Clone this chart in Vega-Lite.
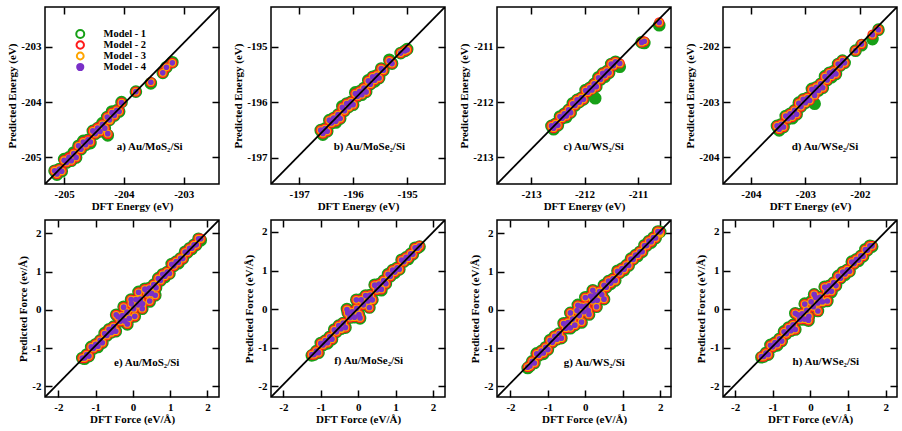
{
  "$schema": "https://vega.github.io/schema/vega-lite/v6.json",
  "padding": {"left": 6, "top": 5, "right": 5, "bottom": 5},
  "background": "white",
  "config": {
    "view": {"stroke": "black", "strokeWidth": 1.5},
    "axis": {"grid": false, "domain": false, "ticks": true, "tickSize": -7, "tickWidth": 1.5, "tickColor": "black", "labelFont": "Liberation Serif", "labelFontSize": 11, "labelFontWeight": "bold", "labelColor": "black", "labelFlush": false, "labelOverlap": false, "titleFont": "Liberation Serif", "titleFontSize": 11, "titleFontWeight": "bold", "titleColor": "black"},
    "axisX": {"labelPadding": 11, "titlePadding": 1},
    "axisY": {"labelPadding": 11, "titlePadding": 3}
  },
  "datasets": {
    "a": [
      {"x":-205.16,"m1":-205.24,"m2":-205.24,"m3":-205.24,"m4":-205.24},
      {"x":-205.12,"m1":-205.31,"m2":-205.30,"m3":-205.30,"m4":-205.30},
      {"x":-205.08,"m1":-205.21,"m2":-205.21,"m3":-205.21,"m4":-205.21},
      {"x":-205.04,"m1":-205.25,"m2":-205.24,"m3":-205.25,"m4":-205.25},
      {"x":-205.00,"m1":-205.03,"m2":-205.05,"m3":-205.05,"m4":-205.05},
      {"x":-204.96,"m1":-205.09,"m2":-205.09,"m3":-205.09,"m4":-205.09},
      {"x":-204.92,"m1":-205.00,"m2":-205.00,"m3":-205.01,"m4":-205.00},
      {"x":-204.88,"m1":-205.06,"m2":-205.06,"m3":-205.06,"m4":-205.06},
      {"x":-204.84,"m1":-204.91,"m2":-204.93,"m3":-204.93,"m4":-204.93},
      {"x":-204.80,"m1":-205.00,"m2":-205.00,"m3":-205.00,"m4":-205.00},
      {"x":-204.76,"m1":-204.79,"m2":-204.80,"m3":-204.79,"m4":-204.79},
      {"x":-204.72,"m1":-204.85,"m2":-204.85,"m3":-204.85,"m4":-204.85},
      {"x":-204.68,"m1":-204.70,"m2":-204.72,"m3":-204.72,"m4":-204.72},
      {"x":-204.64,"m1":-204.77,"m2":-204.77,"m3":-204.77,"m4":-204.77},
      {"x":-204.60,"m1":-204.68,"m2":-204.68,"m3":-204.69,"m4":-204.68},
      {"x":-204.56,"m1":-204.74,"m2":-204.72,"m3":-204.72,"m4":-204.72},
      {"x":-204.52,"m1":-204.52,"m2":-204.52,"m3":-204.52,"m4":-204.52},
      {"x":-204.48,"m1":-204.57,"m2":-204.57,"m3":-204.57,"m4":-204.57},
      {"x":-204.44,"m1":-204.47,"m2":-204.46,"m3":-204.47,"m4":-204.47},
      {"x":-204.40,"m1":-204.53,"m2":-204.53,"m3":-204.53,"m4":-204.53},
      {"x":-204.36,"m1":-204.38,"m2":-204.40,"m3":-204.40,"m4":-204.40},
      {"x":-204.32,"m1":-204.47,"m2":-204.47,"m3":-204.47,"m4":-204.47},
      {"x":-204.28,"m1":-204.27,"m2":-204.27,"m3":-204.27,"m4":-204.27},
      {"x":-204.24,"m1":-204.32,"m2":-204.32,"m3":-204.33,"m4":-204.32},
      {"x":-204.20,"m1":-204.17,"m2":-204.19,"m3":-204.19,"m4":-204.19},
      {"x":-204.16,"m1":-204.24,"m2":-204.24,"m3":-204.24,"m4":-204.24},
      {"x":-204.12,"m1":-204.15,"m2":-204.15,"m3":-204.15,"m4":-204.15},
      {"x":-204.08,"m1":-204.17,"m2":-204.16,"m3":-204.17,"m4":-204.17},
      {"x":-204.04,"m1":-204.00,"m2":-204.01,"m3":-204.01,"m4":-204.01},
      {"x":-204.27,"m1":-204.60,"m2":-204.58,"m3":-204.57,"m4":-204.57},
      {"x":-203.80,"m1":-203.81,"m2":-203.81,"m3":-203.81,"m4":-203.81},
      {"x":-203.55,"m1":-203.66,"m2":-203.64,"m3":-203.64,"m4":-203.64},
      {"x":-203.35,"m1":-203.47,"m2":-203.47,"m3":-203.47,"m4":-203.47},
      {"x":-203.29,"m1":-203.37,"m2":-203.37,"m3":-203.37,"m4":-203.37},
      {"x":-203.19,"m1":-203.28,"m2":-203.29,"m3":-203.29,"m4":-203.29}
    ],
    "b": [
      {"x":-196.60,"m1":-196.50,"m2":-196.50,"m3":-196.50,"m4":-196.50},
      {"x":-196.56,"m1":-196.58,"m2":-196.56,"m3":-196.56,"m4":-196.56},
      {"x":-196.52,"m1":-196.47,"m2":-196.47,"m3":-196.47,"m4":-196.47},
      {"x":-196.48,"m1":-196.52,"m2":-196.52,"m3":-196.52,"m4":-196.52},
      {"x":-196.44,"m1":-196.32,"m2":-196.33,"m3":-196.32,"m4":-196.32},
      {"x":-196.40,"m1":-196.37,"m2":-196.37,"m3":-196.37,"m4":-196.37},
      {"x":-196.36,"m1":-196.28,"m2":-196.28,"m3":-196.28,"m4":-196.28},
      {"x":-196.32,"m1":-196.36,"m2":-196.34,"m3":-196.34,"m4":-196.34},
      {"x":-196.28,"m1":-196.22,"m2":-196.22,"m3":-196.22,"m4":-196.22},
      {"x":-196.24,"m1":-196.29,"m2":-196.29,"m3":-196.29,"m4":-196.29},
      {"x":-196.20,"m1":-196.07,"m2":-196.09,"m3":-196.09,"m4":-196.09},
      {"x":-196.16,"m1":-196.15,"m2":-196.15,"m3":-196.15,"m4":-196.15},
      {"x":-196.12,"m1":-196.02,"m2":-196.02,"m3":-196.02,"m4":-196.02},
      {"x":-196.08,"m1":-196.08,"m2":-196.08,"m3":-196.09,"m4":-196.08},
      {"x":-196.04,"m1":-195.99,"m2":-195.99,"m3":-195.99,"m4":-195.99},
      {"x":-196.00,"m1":-196.04,"m2":-196.04,"m3":-196.04,"m4":-196.04},
      {"x":-195.96,"m1":-195.82,"m2":-195.84,"m3":-195.84,"m4":-195.84},
      {"x":-195.92,"m1":-195.89,"m2":-195.89,"m3":-195.89,"m4":-195.89},
      {"x":-195.88,"m1":-195.80,"m2":-195.80,"m3":-195.80,"m4":-195.80},
      {"x":-195.84,"m1":-195.86,"m2":-195.85,"m3":-195.86,"m4":-195.86},
      {"x":-195.80,"m1":-195.74,"m2":-195.74,"m3":-195.74,"m4":-195.74},
      {"x":-195.76,"m1":-195.81,"m2":-195.81,"m3":-195.81,"m4":-195.81},
      {"x":-195.72,"m1":-195.60,"m2":-195.61,"m3":-195.61,"m4":-195.61},
      {"x":-195.68,"m1":-195.67,"m2":-195.67,"m3":-195.67,"m4":-195.67},
      {"x":-195.64,"m1":-195.54,"m2":-195.54,"m3":-195.54,"m4":-195.54},
      {"x":-195.60,"m1":-195.62,"m2":-195.60,"m3":-195.60,"m4":-195.60},
      {"x":-195.56,"m1":-195.51,"m2":-195.51,"m3":-195.51,"m4":-195.51},
      {"x":-195.52,"m1":-195.56,"m2":-195.56,"m3":-195.56,"m4":-195.56},
      {"x":-195.48,"m1":-195.39,"m2":-195.39,"m3":-195.39,"m4":-195.39},
      {"x":-195.44,"m1":-195.42,"m2":-195.42,"m3":-195.42,"m4":-195.42},
      {"x":-195.33,"m1":-195.23,"m2":-195.25,"m3":-195.25,"m4":-195.25},
      {"x":-195.28,"m1":-195.30,"m2":-195.30,"m3":-195.30,"m4":-195.30},
      {"x":-195.12,"m1":-195.11,"m2":-195.11,"m3":-195.11,"m4":-195.11},
      {"x":-195.04,"m1":-195.07,"m2":-195.07,"m3":-195.07,"m4":-195.07},
      {"x":-195.00,"m1":-195.04,"m2":-195.05,"m3":-195.05,"m4":-195.05}
    ],
    "c": [
      {"x":-212.62,"m1":-212.43,"m2":-212.43,"m3":-212.43,"m4":-212.43},
      {"x":-212.58,"m1":-212.49,"m2":-212.47,"m3":-212.47,"m4":-212.47},
      {"x":-212.54,"m1":-212.39,"m2":-212.39,"m3":-212.39,"m4":-212.39},
      {"x":-212.50,"m1":-212.42,"m2":-212.42,"m3":-212.42,"m4":-212.42},
      {"x":-212.46,"m1":-212.26,"m2":-212.27,"m3":-212.26,"m4":-212.26},
      {"x":-212.42,"m1":-212.29,"m2":-212.29,"m3":-212.29,"m4":-212.29},
      {"x":-212.38,"m1":-212.21,"m2":-212.21,"m3":-212.21,"m4":-212.21},
      {"x":-212.34,"m1":-212.27,"m2":-212.25,"m3":-212.25,"m4":-212.25},
      {"x":-212.30,"m1":-212.14,"m2":-212.14,"m3":-212.14,"m4":-212.14},
      {"x":-212.26,"m1":-212.19,"m2":-212.19,"m3":-212.19,"m4":-212.19},
      {"x":-212.22,"m1":-212.02,"m2":-212.03,"m3":-212.03,"m4":-212.03},
      {"x":-212.18,"m1":-212.06,"m2":-212.06,"m3":-212.06,"m4":-212.06},
      {"x":-212.14,"m1":-211.96,"m2":-211.96,"m3":-211.96,"m4":-211.96},
      {"x":-212.10,"m1":-212.00,"m2":-212.00,"m3":-212.01,"m4":-212.00},
      {"x":-212.06,"m1":-211.92,"m2":-211.92,"m3":-211.92,"m4":-211.92},
      {"x":-212.02,"m1":-211.95,"m2":-211.95,"m3":-211.95,"m4":-211.95},
      {"x":-211.98,"m1":-211.78,"m2":-211.79,"m3":-211.79,"m4":-211.79},
      {"x":-211.94,"m1":-211.82,"m2":-211.82,"m3":-211.82,"m4":-211.82},
      {"x":-211.90,"m1":-211.74,"m2":-211.74,"m3":-211.74,"m4":-211.74},
      {"x":-211.86,"m1":-211.78,"m2":-211.77,"m3":-211.78,"m4":-211.78},
      {"x":-211.82,"m1":-211.67,"m2":-211.67,"m3":-211.67,"m4":-211.67},
      {"x":-211.78,"m1":-211.72,"m2":-211.72,"m3":-211.72,"m4":-211.72},
      {"x":-211.74,"m1":-211.55,"m2":-211.56,"m3":-211.56,"m4":-211.56},
      {"x":-211.70,"m1":-211.59,"m2":-211.59,"m3":-211.59,"m4":-211.59},
      {"x":-211.66,"m1":-211.48,"m2":-211.48,"m3":-211.48,"m4":-211.48},
      {"x":-211.62,"m1":-211.54,"m2":-211.52,"m3":-211.52,"m4":-211.52},
      {"x":-211.58,"m1":-211.44,"m2":-211.44,"m3":-211.44,"m4":-211.44},
      {"x":-211.54,"m1":-211.47,"m2":-211.47,"m3":-211.47,"m4":-211.47},
      {"x":-211.50,"m1":-211.31,"m2":-211.31,"m3":-211.31,"m4":-211.31},
      {"x":-211.46,"m1":-211.34,"m2":-211.34,"m3":-211.34,"m4":-211.34},
      {"x":-211.42,"m1":-211.27,"m2":-211.27,"m3":-211.27,"m4":-211.27},
      {"x":-211.80,"m1":-211.93,"m2":-211.70,"m3":-211.70,"m4":-211.70},
      {"x":-211.34,"m1":-211.36,"m2":-211.30,"m3":-211.30,"m4":-211.30},
      {"x":-210.93,"m1":-210.92,"m2":-210.92,"m3":-210.92,"m4":-210.92},
      {"x":-210.88,"m1":-210.93,"m2":-210.90,"m3":-210.90,"m4":-210.90},
      {"x":-210.60,"m1":-210.61,"m2":-210.56,"m3":-210.56,"m4":-210.56}
    ],
    "d": [
      {"x":-203.52,"m1":-203.43,"m2":-203.43,"m3":-203.43,"m4":-203.43},
      {"x":-203.48,"m1":-203.51,"m2":-203.49,"m3":-203.49,"m4":-203.49},
      {"x":-203.44,"m1":-203.40,"m2":-203.40,"m3":-203.40,"m4":-203.40},
      {"x":-203.40,"m1":-203.45,"m2":-203.45,"m3":-203.45,"m4":-203.45},
      {"x":-203.36,"m1":-203.25,"m2":-203.26,"m3":-203.25,"m4":-203.25},
      {"x":-203.32,"m1":-203.30,"m2":-203.30,"m3":-203.30,"m4":-203.30},
      {"x":-203.28,"m1":-203.21,"m2":-203.21,"m3":-203.21,"m4":-203.21},
      {"x":-203.24,"m1":-203.29,"m2":-203.27,"m3":-203.27,"m4":-203.27},
      {"x":-203.20,"m1":-203.15,"m2":-203.15,"m3":-203.15,"m4":-203.15},
      {"x":-203.16,"m1":-203.22,"m2":-203.22,"m3":-203.22,"m4":-203.22},
      {"x":-203.12,"m1":-203.01,"m2":-203.02,"m3":-203.02,"m4":-203.02},
      {"x":-203.08,"m1":-203.08,"m2":-203.08,"m3":-203.08,"m4":-203.08},
      {"x":-203.04,"m1":-202.95,"m2":-202.95,"m3":-202.95,"m4":-202.95},
      {"x":-203.00,"m1":-203.01,"m2":-203.01,"m3":-203.02,"m4":-203.01},
      {"x":-202.96,"m1":-202.92,"m2":-202.92,"m3":-202.92,"m4":-202.92},
      {"x":-202.92,"m1":-202.97,"m2":-202.97,"m3":-202.97,"m4":-202.97},
      {"x":-202.88,"m1":-202.76,"m2":-202.77,"m3":-202.77,"m4":-202.77},
      {"x":-202.84,"m1":-202.82,"m2":-202.82,"m3":-202.82,"m4":-202.82},
      {"x":-202.80,"m1":-202.73,"m2":-202.73,"m3":-202.73,"m4":-202.73},
      {"x":-202.76,"m1":-202.79,"m2":-202.78,"m3":-202.79,"m4":-202.79},
      {"x":-202.72,"m1":-202.67,"m2":-202.67,"m3":-202.67,"m4":-202.67},
      {"x":-202.68,"m1":-202.74,"m2":-202.74,"m3":-202.74,"m4":-202.74},
      {"x":-202.64,"m1":-202.53,"m2":-202.54,"m3":-202.54,"m4":-202.54},
      {"x":-202.60,"m1":-202.60,"m2":-202.60,"m3":-202.60,"m4":-202.60},
      {"x":-202.56,"m1":-202.47,"m2":-202.47,"m3":-202.47,"m4":-202.47},
      {"x":-202.52,"m1":-202.55,"m2":-202.53,"m3":-202.53,"m4":-202.53},
      {"x":-202.48,"m1":-202.44,"m2":-202.44,"m3":-202.44,"m4":-202.44},
      {"x":-202.44,"m1":-202.49,"m2":-202.49,"m3":-202.49,"m4":-202.49},
      {"x":-202.40,"m1":-202.31,"m2":-202.31,"m3":-202.31,"m4":-202.31},
      {"x":-202.36,"m1":-202.34,"m2":-202.34,"m3":-202.34,"m4":-202.34},
      {"x":-202.32,"m1":-202.25,"m2":-202.25,"m3":-202.25,"m4":-202.25},
      {"x":-202.28,"m1":-202.29,"m2":-202.29,"m3":-202.29,"m4":-202.29},
      {"x":-202.83,"m1":-203.03,"m2":-202.88,"m3":-202.88,"m4":-202.88},
      {"x":-202.08,"m1":-202.07,"m2":-202.07,"m3":-202.07,"m4":-202.07},
      {"x":-201.97,"m1":-201.97,"m2":-201.95,"m3":-201.95,"m4":-201.95},
      {"x":-201.77,"m1":-201.86,"m2":-201.78,"m3":-201.78,"m4":-201.78},
      {"x":-201.66,"m1":-201.69,"m2":-201.69,"m3":-201.69,"m4":-201.69}
    ],
    "e": [
      {"x":-1.36,"m1":-1.26,"m2":-1.26,"m3":-1.26,"m4":-1.26},
      {"x":-1.30,"m1":-1.28,"m2":-1.26,"m3":-1.26,"m4":-1.26},
      {"x":-1.24,"m1":-1.17,"m2":-1.17,"m3":-1.17,"m4":-1.17},
      {"x":-1.18,"m1":-1.21,"m2":-1.21,"m3":-1.21,"m4":-1.21},
      {"x":-1.12,"m1":-0.97,"m2":-0.98,"m3":-0.97,"m4":-0.97},
      {"x":-1.06,"m1":-1.01,"m2":-1.01,"m3":-1.01,"m4":-1.01},
      {"x":-1.00,"m1":-0.90,"m2":-0.90,"m3":-0.90,"m4":-0.90},
      {"x":-0.94,"m1":-0.97,"m2":-0.95,"m3":-0.95,"m4":-0.95},
      {"x":-0.88,"m1":-0.80,"m2":-0.80,"m3":-0.80,"m4":-0.80},
      {"x":-0.82,"m1":-0.86,"m2":-0.86,"m3":-0.86,"m4":-0.86},
      {"x":-0.76,"m1":-0.61,"m2":-0.62,"m3":-0.62,"m4":-0.62},
      {"x":-0.70,"m1":-0.67,"m2":-0.67,"m3":-0.67,"m4":-0.67},
      {"x":-0.64,"m1":-0.51,"m2":-0.51,"m3":-0.51,"m4":-0.51},
      {"x":-0.58,"m1":-0.59,"m2":-0.59,"m3":-0.60,"m4":-0.59},
      {"x":-0.52,"m1":-0.44,"m2":-0.44,"m3":-0.44,"m4":-0.44},
      {"x":-0.46,"m1":-0.56,"m2":-0.56,"m3":-0.56,"m4":-0.56},
      {"x":-0.40,"m1":-0.17,"m2":-0.18,"m3":-0.18,"m4":-0.18},
      {"x":-0.34,"m1":-0.30,"m2":-0.30,"m3":-0.30,"m4":-0.30},
      {"x":-0.28,"m1":-0.15,"m2":-0.15,"m3":-0.15,"m4":-0.15},
      {"x":-0.22,"m1":-0.29,"m2":-0.28,"m3":-0.29,"m4":-0.29},
      {"x":-0.16,"m1":-0.06,"m2":-0.06,"m3":-0.06,"m4":-0.06},
      {"x":-0.10,"m1":-0.22,"m2":-0.22,"m3":-0.22,"m4":-0.22},
      {"x":-0.04,"m1":0.17,"m2":0.16,"m3":0.16,"m4":0.16},
      {"x":0.02,"m1":0.03,"m2":0.03,"m3":0.03,"m4":0.03},
      {"x":0.08,"m1":0.27,"m2":0.27,"m3":0.27,"m4":0.27},
      {"x":0.14,"m1":0.11,"m2":0.13,"m3":0.13,"m4":0.13},
      {"x":0.20,"m1":0.28,"m2":0.28,"m3":0.28,"m4":0.28},
      {"x":0.26,"m1":0.16,"m2":0.16,"m3":0.15,"m4":0.16},
      {"x":0.32,"m1":0.55,"m2":0.54,"m3":0.54,"m4":0.54},
      {"x":0.38,"m1":0.42,"m2":0.42,"m3":0.42,"m4":0.42},
      {"x":0.44,"m1":0.57,"m2":0.57,"m3":0.57,"m4":0.57},
      {"x":0.50,"m1":0.41,"m2":0.43,"m3":0.43,"m4":0.43},
      {"x":0.56,"m1":0.66,"m2":0.66,"m3":0.66,"m4":0.66},
      {"x":0.62,"m1":0.58,"m2":0.58,"m3":0.58,"m4":0.58},
      {"x":0.68,"m1":0.83,"m2":0.82,"m3":0.82,"m4":0.82},
      {"x":0.74,"m1":0.77,"m2":0.77,"m3":0.77,"m4":0.77},
      {"x":0.80,"m1":0.93,"m2":0.93,"m3":0.93,"m4":0.93},
      {"x":0.86,"m1":0.86,"m2":0.88,"m3":0.88,"m4":0.88},
      {"x":0.92,"m1":0.99,"m2":0.99,"m3":0.99,"m4":0.99},
      {"x":0.98,"m1":0.95,"m2":0.95,"m3":0.94,"m4":0.95},
      {"x":1.04,"m1":1.20,"m2":1.19,"m3":1.19,"m4":1.19},
      {"x":1.10,"m1":1.15,"m2":1.15,"m3":1.15,"m4":1.15},
      {"x":1.16,"m1":1.26,"m2":1.26,"m3":1.26,"m4":1.26},
      {"x":1.22,"m1":1.22,"m2":1.24,"m3":1.24,"m4":1.24},
      {"x":1.28,"m1":1.35,"m2":1.35,"m3":1.35,"m4":1.35},
      {"x":1.34,"m1":1.34,"m2":1.34,"m3":1.34,"m4":1.34},
      {"x":1.40,"m1":1.52,"m2":1.51,"m3":1.51,"m4":1.51},
      {"x":1.46,"m1":1.50,"m2":1.50,"m3":1.50,"m4":1.50},
      {"x":1.52,"m1":1.61,"m2":1.61,"m3":1.61,"m4":1.61},
      {"x":1.58,"m1":1.59,"m2":1.61,"m3":1.61,"m4":1.61},
      {"x":1.64,"m1":1.70,"m2":1.70,"m3":1.70,"m4":1.70},
      {"x":1.70,"m1":1.70,"m2":1.70,"m3":1.70,"m4":1.70},
      {"x":1.76,"m1":1.86,"m2":1.86,"m3":1.86,"m4":1.86},
      {"x":1.82,"m1":1.82,"m2":1.86,"m3":1.85,"m4":1.86},
      {"x":-0.45,"m1":-0.13,"m2":-0.13,"m3":-0.13,"m4":-0.13},
      {"x":-0.25,"m1":0.08,"m2":0.07,"m3":0.07,"m4":0.07},
      {"x":-0.05,"m1":0.27,"m2":0.27,"m3":0.27,"m4":0.27},
      {"x":0.15,"m1":0.47,"m2":0.46,"m3":0.46,"m4":0.46},
      {"x":-0.15,"m1":-0.38,"m2":-0.37,"m3":-0.37,"m4":-0.37},
      {"x":0.05,"m1":-0.17,"m2":-0.17,"m3":-0.17,"m4":-0.17},
      {"x":0.25,"m1":0.03,"m2":0.03,"m3":0.03,"m4":0.03},
      {"x":0.45,"m1":0.22,"m2":0.23,"m3":0.23,"m4":0.23},
      {"x":0.60,"m1":0.38,"m2":0.38,"m3":0.38,"m4":0.38}
    ],
    "f": [
      {"x":-1.24,"m1":-1.20,"m2":-1.18,"m3":-1.18,"m4":-1.18},
      {"x":-1.18,"m1":-1.18,"m2":-1.18,"m3":-1.18,"m4":-1.18},
      {"x":-1.12,"m1":-1.09,"m2":-1.09,"m3":-1.09,"m4":-1.09},
      {"x":-1.06,"m1":-1.13,"m2":-1.13,"m3":-1.13,"m4":-1.13},
      {"x":-1.00,"m1":-0.88,"m2":-0.89,"m3":-0.89,"m4":-0.89},
      {"x":-0.94,"m1":-0.93,"m2":-0.93,"m3":-0.93,"m4":-0.93},
      {"x":-0.88,"m1":-0.82,"m2":-0.82,"m3":-0.82,"m4":-0.82},
      {"x":-0.82,"m1":-0.89,"m2":-0.87,"m3":-0.87,"m4":-0.87},
      {"x":-0.76,"m1":-0.72,"m2":-0.72,"m3":-0.72,"m4":-0.72},
      {"x":-0.70,"m1":-0.78,"m2":-0.78,"m3":-0.78,"m4":-0.78},
      {"x":-0.64,"m1":-0.53,"m2":-0.54,"m3":-0.54,"m4":-0.54},
      {"x":-0.58,"m1":-0.59,"m2":-0.59,"m3":-0.59,"m4":-0.59},
      {"x":-0.52,"m1":-0.43,"m2":-0.43,"m3":-0.43,"m4":-0.43},
      {"x":-0.46,"m1":-0.51,"m2":-0.51,"m3":-0.52,"m4":-0.51},
      {"x":-0.40,"m1":-0.36,"m2":-0.36,"m3":-0.36,"m4":-0.36},
      {"x":-0.34,"m1":-0.48,"m2":-0.48,"m3":-0.48,"m4":-0.48},
      {"x":-0.28,"m1":-0.09,"m2":-0.10,"m3":-0.10,"m4":-0.10},
      {"x":-0.22,"m1":-0.22,"m2":-0.22,"m3":-0.22,"m4":-0.22},
      {"x":-0.16,"m1":-0.07,"m2":-0.07,"m3":-0.07,"m4":-0.07},
      {"x":-0.10,"m1":-0.21,"m2":-0.20,"m3":-0.21,"m4":-0.21},
      {"x":-0.04,"m1":0.02,"m2":0.02,"m3":0.02,"m4":0.02},
      {"x":0.02,"m1":-0.14,"m2":-0.14,"m3":-0.14,"m4":-0.14},
      {"x":0.08,"m1":0.25,"m2":0.24,"m3":0.24,"m4":0.24},
      {"x":0.14,"m1":0.11,"m2":0.11,"m3":0.11,"m4":0.11},
      {"x":0.20,"m1":0.35,"m2":0.35,"m3":0.35,"m4":0.35},
      {"x":0.26,"m1":0.19,"m2":0.21,"m3":0.21,"m4":0.21},
      {"x":0.32,"m1":0.36,"m2":0.36,"m3":0.36,"m4":0.36},
      {"x":0.38,"m1":0.24,"m2":0.24,"m3":0.23,"m4":0.24},
      {"x":0.44,"m1":0.63,"m2":0.62,"m3":0.62,"m4":0.62},
      {"x":0.50,"m1":0.50,"m2":0.50,"m3":0.50,"m4":0.50},
      {"x":0.56,"m1":0.65,"m2":0.65,"m3":0.65,"m4":0.65},
      {"x":0.62,"m1":0.49,"m2":0.51,"m3":0.51,"m4":0.51},
      {"x":0.68,"m1":0.74,"m2":0.74,"m3":0.74,"m4":0.74},
      {"x":0.74,"m1":0.66,"m2":0.66,"m3":0.66,"m4":0.66},
      {"x":0.80,"m1":0.91,"m2":0.90,"m3":0.90,"m4":0.90},
      {"x":0.86,"m1":0.85,"m2":0.85,"m3":0.85,"m4":0.85},
      {"x":0.92,"m1":1.01,"m2":1.01,"m3":1.01,"m4":1.01},
      {"x":0.98,"m1":0.94,"m2":0.96,"m3":0.96,"m4":0.96},
      {"x":1.04,"m1":1.07,"m2":1.07,"m3":1.07,"m4":1.07},
      {"x":1.10,"m1":1.03,"m2":1.03,"m3":1.02,"m4":1.03},
      {"x":1.16,"m1":1.28,"m2":1.27,"m3":1.27,"m4":1.27},
      {"x":1.22,"m1":1.23,"m2":1.23,"m3":1.23,"m4":1.23},
      {"x":1.28,"m1":1.34,"m2":1.34,"m3":1.34,"m4":1.34},
      {"x":1.34,"m1":1.30,"m2":1.32,"m3":1.32,"m4":1.32},
      {"x":1.40,"m1":1.43,"m2":1.43,"m3":1.43,"m4":1.43},
      {"x":1.46,"m1":1.42,"m2":1.42,"m3":1.42,"m4":1.42},
      {"x":1.52,"m1":1.59,"m2":1.59,"m3":1.59,"m4":1.59},
      {"x":1.58,"m1":1.58,"m2":1.58,"m3":1.58,"m4":1.58},
      {"x":1.64,"m1":1.62,"m2":1.64,"m3":1.64,"m4":1.64},
      {"x":-0.30,"m1":0.00,"m2":-0.01,"m3":-0.01,"m4":-0.01},
      {"x":-0.05,"m1":0.24,"m2":0.24,"m3":0.24,"m4":0.24},
      {"x":0.05,"m1":-0.24,"m2":-0.23,"m3":-0.23,"m4":-0.23},
      {"x":0.30,"m1":0.04,"m2":0.04,"m3":0.04,"m4":0.04}
    ],
    "g": [
      {"x":-1.54,"m1":-1.52,"m2":-1.50,"m3":-1.50,"m4":-1.50},
      {"x":-1.48,"m1":-1.47,"m2":-1.47,"m3":-1.47,"m4":-1.47},
      {"x":-1.42,"m1":-1.35,"m2":-1.35,"m3":-1.35,"m4":-1.35},
      {"x":-1.36,"m1":-1.39,"m2":-1.39,"m3":-1.39,"m4":-1.39},
      {"x":-1.30,"m1":-1.14,"m2":-1.15,"m3":-1.15,"m4":-1.15},
      {"x":-1.24,"m1":-1.19,"m2":-1.19,"m3":-1.19,"m4":-1.19},
      {"x":-1.18,"m1":-1.08,"m2":-1.08,"m3":-1.08,"m4":-1.08},
      {"x":-1.12,"m1":-1.15,"m2":-1.13,"m3":-1.13,"m4":-1.13},
      {"x":-1.06,"m1":-0.98,"m2":-0.98,"m3":-0.98,"m4":-0.98},
      {"x":-1.00,"m1":-1.04,"m2":-1.04,"m3":-1.04,"m4":-1.04},
      {"x":-0.94,"m1":-0.79,"m2":-0.80,"m3":-0.80,"m4":-0.80},
      {"x":-0.88,"m1":-0.85,"m2":-0.85,"m3":-0.85,"m4":-0.85},
      {"x":-0.82,"m1":-0.69,"m2":-0.69,"m3":-0.69,"m4":-0.69},
      {"x":-0.76,"m1":-0.77,"m2":-0.77,"m3":-0.78,"m4":-0.77},
      {"x":-0.70,"m1":-0.62,"m2":-0.62,"m3":-0.62,"m4":-0.62},
      {"x":-0.64,"m1":-0.74,"m2":-0.74,"m3":-0.74,"m4":-0.74},
      {"x":-0.58,"m1":-0.35,"m2":-0.36,"m3":-0.36,"m4":-0.36},
      {"x":-0.52,"m1":-0.48,"m2":-0.48,"m3":-0.48,"m4":-0.48},
      {"x":-0.46,"m1":-0.33,"m2":-0.33,"m3":-0.33,"m4":-0.33},
      {"x":-0.40,"m1":-0.48,"m2":-0.47,"m3":-0.47,"m4":-0.47},
      {"x":-0.34,"m1":-0.24,"m2":-0.24,"m3":-0.24,"m4":-0.24},
      {"x":-0.28,"m1":-0.40,"m2":-0.40,"m3":-0.40,"m4":-0.40},
      {"x":-0.22,"m1":-0.01,"m2":-0.02,"m3":-0.02,"m4":-0.02},
      {"x":-0.16,"m1":-0.15,"m2":-0.15,"m3":-0.15,"m4":-0.15},
      {"x":-0.10,"m1":0.09,"m2":0.09,"m3":0.09,"m4":0.09},
      {"x":-0.04,"m1":-0.06,"m2":-0.05,"m3":-0.05,"m4":-0.05},
      {"x":0.02,"m1":0.10,"m2":0.10,"m3":0.10,"m4":0.10},
      {"x":0.08,"m1":-0.02,"m2":-0.02,"m3":-0.03,"m4":-0.02},
      {"x":0.14,"m1":0.37,"m2":0.36,"m3":0.36,"m4":0.36},
      {"x":0.20,"m1":0.24,"m2":0.24,"m3":0.24,"m4":0.24},
      {"x":0.26,"m1":0.39,"m2":0.39,"m3":0.39,"m4":0.39},
      {"x":0.32,"m1":0.24,"m2":0.25,"m3":0.25,"m4":0.25},
      {"x":0.38,"m1":0.48,"m2":0.48,"m3":0.48,"m4":0.48},
      {"x":0.44,"m1":0.40,"m2":0.40,"m3":0.40,"m4":0.40},
      {"x":0.50,"m1":0.65,"m2":0.64,"m3":0.64,"m4":0.64},
      {"x":0.56,"m1":0.59,"m2":0.59,"m3":0.59,"m4":0.59},
      {"x":0.62,"m1":0.75,"m2":0.75,"m3":0.75,"m4":0.75},
      {"x":0.68,"m1":0.68,"m2":0.70,"m3":0.70,"m4":0.70},
      {"x":0.74,"m1":0.81,"m2":0.81,"m3":0.81,"m4":0.81},
      {"x":0.80,"m1":0.77,"m2":0.77,"m3":0.76,"m4":0.77},
      {"x":0.86,"m1":1.02,"m2":1.01,"m3":1.01,"m4":1.01},
      {"x":0.92,"m1":0.97,"m2":0.97,"m3":0.97,"m4":0.97},
      {"x":0.98,"m1":1.08,"m2":1.08,"m3":1.08,"m4":1.08},
      {"x":1.04,"m1":1.04,"m2":1.06,"m3":1.06,"m4":1.06},
      {"x":1.10,"m1":1.17,"m2":1.17,"m3":1.17,"m4":1.17},
      {"x":1.16,"m1":1.16,"m2":1.16,"m3":1.16,"m4":1.16},
      {"x":1.22,"m1":1.34,"m2":1.33,"m3":1.33,"m4":1.33},
      {"x":1.28,"m1":1.32,"m2":1.32,"m3":1.32,"m4":1.32},
      {"x":1.34,"m1":1.43,"m2":1.43,"m3":1.43,"m4":1.43},
      {"x":1.40,"m1":1.41,"m2":1.43,"m3":1.43,"m4":1.43},
      {"x":1.46,"m1":1.52,"m2":1.52,"m3":1.52,"m4":1.52},
      {"x":1.52,"m1":1.52,"m2":1.52,"m3":1.52,"m4":1.52},
      {"x":1.58,"m1":1.69,"m2":1.68,"m3":1.68,"m4":1.68},
      {"x":1.64,"m1":1.68,"m2":1.68,"m3":1.68,"m4":1.68},
      {"x":1.70,"m1":1.80,"m2":1.80,"m3":1.80,"m4":1.80},
      {"x":1.76,"m1":1.76,"m2":1.78,"m3":1.78,"m4":1.78},
      {"x":1.82,"m1":1.89,"m2":1.89,"m3":1.89,"m4":1.89},
      {"x":1.88,"m1":1.88,"m2":1.88,"m3":1.88,"m4":1.88},
      {"x":1.94,"m1":2.05,"m2":2.05,"m3":2.05,"m4":2.05},
      {"x":2.00,"m1":2.04,"m2":2.04,"m3":1.99,"m4":2.04},
      {"x":-0.40,"m1":-0.08,"m2":-0.08,"m3":-0.08,"m4":-0.08},
      {"x":-0.20,"m1":0.13,"m2":0.12,"m3":0.12,"m4":0.12},
      {"x":0.00,"m1":0.33,"m2":0.32,"m3":0.32,"m4":0.32},
      {"x":0.20,"m1":0.51,"m2":0.51,"m3":0.51,"m4":0.51},
      {"x":-0.10,"m1":-0.33,"m2":-0.32,"m3":-0.32,"m4":-0.32},
      {"x":0.10,"m1":-0.12,"m2":-0.12,"m3":-0.12,"m4":-0.12},
      {"x":0.30,"m1":0.08,"m2":0.08,"m3":0.08,"m4":0.08},
      {"x":0.50,"m1":0.28,"m2":0.28,"m3":0.28,"m4":0.28}
    ],
    "h": [
      {"x":-1.30,"m1":-1.25,"m2":-1.23,"m3":-1.23,"m4":-1.23},
      {"x":-1.24,"m1":-1.23,"m2":-1.23,"m3":-1.23,"m4":-1.23},
      {"x":-1.18,"m1":-1.14,"m2":-1.14,"m3":-1.14,"m4":-1.14},
      {"x":-1.12,"m1":-1.18,"m2":-1.18,"m3":-1.18,"m4":-1.18},
      {"x":-1.06,"m1":-0.93,"m2":-0.94,"m3":-0.94,"m4":-0.94},
      {"x":-1.00,"m1":-0.98,"m2":-0.98,"m3":-0.98,"m4":-0.98},
      {"x":-0.94,"m1":-0.87,"m2":-0.87,"m3":-0.87,"m4":-0.87},
      {"x":-0.88,"m1":-0.94,"m2":-0.92,"m3":-0.92,"m4":-0.92},
      {"x":-0.82,"m1":-0.77,"m2":-0.77,"m3":-0.77,"m4":-0.77},
      {"x":-0.76,"m1":-0.83,"m2":-0.83,"m3":-0.83,"m4":-0.83},
      {"x":-0.70,"m1":-0.58,"m2":-0.59,"m3":-0.59,"m4":-0.59},
      {"x":-0.64,"m1":-0.64,"m2":-0.64,"m3":-0.64,"m4":-0.64},
      {"x":-0.58,"m1":-0.48,"m2":-0.48,"m3":-0.48,"m4":-0.48},
      {"x":-0.52,"m1":-0.56,"m2":-0.56,"m3":-0.57,"m4":-0.56},
      {"x":-0.46,"m1":-0.41,"m2":-0.41,"m3":-0.41,"m4":-0.41},
      {"x":-0.40,"m1":-0.53,"m2":-0.53,"m3":-0.53,"m4":-0.53},
      {"x":-0.34,"m1":-0.14,"m2":-0.15,"m3":-0.15,"m4":-0.15},
      {"x":-0.28,"m1":-0.27,"m2":-0.27,"m3":-0.27,"m4":-0.27},
      {"x":-0.22,"m1":-0.12,"m2":-0.12,"m3":-0.12,"m4":-0.12},
      {"x":-0.16,"m1":-0.27,"m2":-0.26,"m3":-0.26,"m4":-0.26},
      {"x":-0.10,"m1":-0.03,"m2":-0.03,"m3":-0.03,"m4":-0.03},
      {"x":-0.04,"m1":-0.19,"m2":-0.19,"m3":-0.19,"m4":-0.19},
      {"x":0.02,"m1":0.20,"m2":0.19,"m3":0.19,"m4":0.19},
      {"x":0.08,"m1":0.06,"m2":0.06,"m3":0.06,"m4":0.06},
      {"x":0.14,"m1":0.30,"m2":0.30,"m3":0.30,"m4":0.30},
      {"x":0.20,"m1":0.14,"m2":0.16,"m3":0.16,"m4":0.16},
      {"x":0.26,"m1":0.31,"m2":0.31,"m3":0.31,"m4":0.31},
      {"x":0.32,"m1":0.19,"m2":0.19,"m3":0.18,"m4":0.19},
      {"x":0.38,"m1":0.58,"m2":0.57,"m3":0.57,"m4":0.57},
      {"x":0.44,"m1":0.45,"m2":0.45,"m3":0.45,"m4":0.45},
      {"x":0.50,"m1":0.60,"m2":0.60,"m3":0.60,"m4":0.60},
      {"x":0.56,"m1":0.44,"m2":0.46,"m3":0.46,"m4":0.46},
      {"x":0.62,"m1":0.69,"m2":0.69,"m3":0.69,"m4":0.69},
      {"x":0.68,"m1":0.61,"m2":0.61,"m3":0.61,"m4":0.61},
      {"x":0.74,"m1":0.86,"m2":0.85,"m3":0.85,"m4":0.85},
      {"x":0.80,"m1":0.80,"m2":0.80,"m3":0.80,"m4":0.80},
      {"x":0.86,"m1":0.96,"m2":0.96,"m3":0.96,"m4":0.96},
      {"x":0.92,"m1":0.89,"m2":0.91,"m3":0.91,"m4":0.91},
      {"x":0.98,"m1":1.02,"m2":1.02,"m3":1.02,"m4":1.02},
      {"x":1.04,"m1":0.98,"m2":0.98,"m3":0.97,"m4":0.98},
      {"x":1.10,"m1":1.23,"m2":1.22,"m3":1.22,"m4":1.22},
      {"x":1.16,"m1":1.18,"m2":1.18,"m3":1.18,"m4":1.18},
      {"x":1.22,"m1":1.29,"m2":1.29,"m3":1.29,"m4":1.29},
      {"x":1.28,"m1":1.25,"m2":1.27,"m3":1.27,"m4":1.27},
      {"x":1.34,"m1":1.38,"m2":1.38,"m3":1.38,"m4":1.38},
      {"x":1.40,"m1":1.37,"m2":1.37,"m3":1.37,"m4":1.37},
      {"x":1.46,"m1":1.55,"m2":1.54,"m3":1.54,"m4":1.54},
      {"x":1.52,"m1":1.53,"m2":1.53,"m3":1.53,"m4":1.53},
      {"x":1.58,"m1":1.64,"m2":1.64,"m3":1.64,"m4":1.64},
      {"x":1.64,"m1":1.62,"m2":1.64,"m3":1.64,"m4":1.64},
      {"x":-0.40,"m1":-0.11,"m2":-0.11,"m3":-0.11,"m4":-0.11},
      {"x":-0.15,"m1":0.14,"m2":0.13,"m3":0.13,"m4":0.13},
      {"x":0.10,"m1":0.38,"m2":0.38,"m3":0.38,"m4":0.38},
      {"x":-0.05,"m1":-0.30,"m2":-0.29,"m3":-0.29,"m4":-0.29},
      {"x":0.20,"m1":-0.05,"m2":-0.05,"m3":-0.05,"m4":-0.05},
      {"x":0.45,"m1":0.21,"m2":0.21,"m3":0.21,"m4":0.21}
    ]
  },
  "columns": 4,
  "spacing": {"row": 36, "column": 52},
  "bounds": "flush",
  "resolve": {"scale": {"stroke": "independent", "fill": "independent", "size": "independent"}},
  "concat": [
    {
      "width": 174, "height": 177,
      "resolve": {"axis": {"x": "independent", "y": "independent"}},
      "layer": [
        {"data": {"name": "a"}, "mark": {"type": "circle", "size": 160, "color": "#17a017", "opacity": 1},
         "encoding": {
           "x": {"field": "x", "type": "quantitative", "scale": {"domain": [-205.32, -202.41], "nice": false, "zero": false}, "axis": {"values": [-205, -204, -203], "labelExpr": "'' + datum.value", "title": "DFT Energy (eV)"}},
           "y": {"field": "m1", "type": "quantitative", "scale": {"domain": [-205.48, -202.28], "nice": false, "zero": false}, "axis": {"values": [-205, -204, -203], "labelExpr": "'' + datum.value", "title": "Predicted Energy (eV)"}}}},
        {"data": {"name": "a"}, "mark": {"type": "circle", "size": 105, "color": "#ff1a1a", "opacity": 1},
         "encoding": {"x": {"field": "x", "type": "quantitative", "axis": null}, "y": {"field": "m2", "type": "quantitative", "axis": null}}},
        {"data": {"name": "a"}, "mark": {"type": "circle", "size": 60, "color": "#ffa500", "opacity": 1},
         "encoding": {"x": {"field": "x", "type": "quantitative", "axis": null}, "y": {"field": "m3", "type": "quantitative", "axis": null}}},
        {"data": {"name": "a"}, "mark": {"type": "circle", "size": 32, "color": "#7a30c8", "opacity": 1},
         "encoding": {"x": {"field": "x", "type": "quantitative", "axis": null}, "y": {"field": "m4", "type": "quantitative", "axis": null}}},
        {"data": {"values": [{"x": -205.32, "y": -205.48}, {"x": -202.41, "y": -202.28}]},
         "mark": {"type": "line", "color": "black", "strokeWidth": 1.8, "clip": true},
         "encoding": {
           "x": {"field": "x", "type": "quantitative", "axis": {"orient": "top", "values": [-205, -204, -203], "labels": false, "title": null}},
           "y": {"field": "y", "type": "quantitative", "axis": {"orient": "right", "values": [-205, -204, -203], "labels": false, "title": null}}}},
        {"data": {"values": [{"x": -203.57, "y": -204.81, "t": "a) Au/MoS₂/Si"}]},
         "mark": {"type": "text", "font": "Liberation Serif", "fontSize": 11, "fontWeight": "bold", "color": "black"},
         "encoding": {"x": {"field": "x", "type": "quantitative", "axis": null}, "y": {"field": "y", "type": "quantitative", "axis": null}, "text": {"field": "t"}}},
        {"data": {"values": []},
         "mark": {"type": "point", "shape": "circle", "opacity": 1},
         "encoding": {
           "x": {"field": "x", "type": "quantitative", "axis": null},
           "y": {"field": "y", "type": "quantitative", "axis": null},
           "stroke": {"field": "model", "type": "nominal", "scale": {"domain": ["Model - 1", "Model - 2", "Model - 3", "Model - 4"], "range": ["#17a017", "#ff1a1a", "#ffa500", "#7a30c8"]},
             "legend": {"orient": "none", "legendX": 30, "legendY": 22, "padding": 0, "title": null, "labelFont": "Liberation Serif", "labelFontWeight": "bold", "labelFontSize": 10.5, "labelColor": "black", "labelOffset": 18, "rowPadding": 0, "clipHeight": 10, "symbolStrokeWidth": 2, "symbolType": "circle", "symbolOpacity": 1}},
           "fill": {"field": "model", "type": "nominal", "scale": {"domain": ["Model - 1", "Model - 2", "Model - 3", "Model - 4"], "range": ["transparent", "transparent", "transparent", "#7a30c8"]},
             "legend": {"orient": "none", "legendX": 30, "legendY": 22, "padding": 0, "title": null, "labelFont": "Liberation Serif", "labelFontWeight": "bold", "labelFontSize": 10.5, "labelColor": "black", "labelOffset": 18, "rowPadding": 0, "clipHeight": 10, "symbolStrokeWidth": 2, "symbolType": "circle", "symbolOpacity": 1}},
           "size": {"field": "model", "type": "ordinal", "scale": {"domain": ["Model - 1", "Model - 2", "Model - 3", "Model - 4"], "range": [64, 38, 19, 4]},
             "legend": {"orient": "none", "legendX": 30, "legendY": 22, "padding": 0, "title": null, "labelFont": "Liberation Serif", "labelFontWeight": "bold", "labelFontSize": 10.5, "labelColor": "black", "labelOffset": 18, "rowPadding": 0, "clipHeight": 10, "symbolStrokeWidth": 2, "symbolType": "circle", "symbolOpacity": 1}}
         }}
      ]
    },
    {
      "width": 174, "height": 177,
      "resolve": {"axis": {"x": "independent", "y": "independent"}},
      "layer": [
        {"data": {"name": "b"}, "mark": {"type": "circle", "size": 160, "color": "#17a017", "opacity": 1},
         "encoding": {
           "x": {"field": "x", "type": "quantitative", "scale": {"domain": [-197.52, -194.3], "nice": false, "zero": false}, "axis": {"values": [-197, -196, -195], "labelExpr": "'' + datum.value", "title": "DFT Energy (eV)"}},
           "y": {"field": "m1", "type": "quantitative", "scale": {"domain": [-197.47, -194.28], "nice": false, "zero": false}, "axis": {"values": [-197, -196, -195], "labelExpr": "'' + datum.value", "title": "Predicted Energy (eV)"}}}},
        {"data": {"name": "b"}, "mark": {"type": "circle", "size": 105, "color": "#ff1a1a", "opacity": 1},
         "encoding": {"x": {"field": "x", "type": "quantitative", "axis": null}, "y": {"field": "m2", "type": "quantitative", "axis": null}}},
        {"data": {"name": "b"}, "mark": {"type": "circle", "size": 60, "color": "#ffa500", "opacity": 1},
         "encoding": {"x": {"field": "x", "type": "quantitative", "axis": null}, "y": {"field": "m3", "type": "quantitative", "axis": null}}},
        {"data": {"name": "b"}, "mark": {"type": "circle", "size": 32, "color": "#7a30c8", "opacity": 1},
         "encoding": {"x": {"field": "x", "type": "quantitative", "axis": null}, "y": {"field": "m4", "type": "quantitative", "axis": null}}},
        {"data": {"values": [{"x": -197.52, "y": -197.47}, {"x": -194.3, "y": -194.28}]},
         "mark": {"type": "line", "color": "black", "strokeWidth": 1.8, "clip": true},
         "encoding": {
           "x": {"field": "x", "type": "quantitative", "axis": {"orient": "top", "values": [-197, -196, -195], "labels": false, "title": null}},
           "y": {"field": "y", "type": "quantitative", "axis": {"orient": "right", "values": [-197, -196, -195], "labels": false, "title": null}}}},
        {"data": {"values": [{"x": -195.7, "y": -196.8, "t": "b) Au/MoSe₂/Si"}]},
         "mark": {"type": "text", "font": "Liberation Serif", "fontSize": 11, "fontWeight": "bold", "color": "black"},
         "encoding": {"x": {"field": "x", "type": "quantitative", "axis": null}, "y": {"field": "y", "type": "quantitative", "axis": null}, "text": {"field": "t"}}}
      ]
    },
    {
      "width": 174, "height": 177,
      "resolve": {"axis": {"x": "independent", "y": "independent"}},
      "layer": [
        {"data": {"name": "c"}, "mark": {"type": "circle", "size": 160, "color": "#17a017", "opacity": 1},
         "encoding": {
           "x": {"field": "x", "type": "quantitative", "scale": {"domain": [-213.64, -210.38], "nice": false, "zero": false}, "axis": {"values": [-213, -212, -211], "labelExpr": "'' + datum.value", "title": "DFT Energy (eV)"}},
           "y": {"field": "m1", "type": "quantitative", "scale": {"domain": [-213.48, -210.28], "nice": false, "zero": false}, "axis": {"values": [-213, -212, -211], "labelExpr": "'' + datum.value", "title": "Predicted Energy (eV)"}}}},
        {"data": {"name": "c"}, "mark": {"type": "circle", "size": 105, "color": "#ff1a1a", "opacity": 1},
         "encoding": {"x": {"field": "x", "type": "quantitative", "axis": null}, "y": {"field": "m2", "type": "quantitative", "axis": null}}},
        {"data": {"name": "c"}, "mark": {"type": "circle", "size": 60, "color": "#ffa500", "opacity": 1},
         "encoding": {"x": {"field": "x", "type": "quantitative", "axis": null}, "y": {"field": "m3", "type": "quantitative", "axis": null}}},
        {"data": {"name": "c"}, "mark": {"type": "circle", "size": 32, "color": "#7a30c8", "opacity": 1},
         "encoding": {"x": {"field": "x", "type": "quantitative", "axis": null}, "y": {"field": "m4", "type": "quantitative", "axis": null}}},
        {"data": {"values": [{"x": -213.64, "y": -213.48}, {"x": -210.38, "y": -210.28}]},
         "mark": {"type": "line", "color": "black", "strokeWidth": 1.8, "clip": true},
         "encoding": {
           "x": {"field": "x", "type": "quantitative", "axis": {"orient": "top", "values": [-213, -212, -211], "labels": false, "title": null}},
           "y": {"field": "y", "type": "quantitative", "axis": {"orient": "right", "values": [-213, -212, -211], "labels": false, "title": null}}}},
        {"data": {"values": [{"x": -211.83, "y": -212.81, "t": "c) Au/WS₂/Si"}]},
         "mark": {"type": "text", "font": "Liberation Serif", "fontSize": 11, "fontWeight": "bold", "color": "black"},
         "encoding": {"x": {"field": "x", "type": "quantitative", "axis": null}, "y": {"field": "y", "type": "quantitative", "axis": null}, "text": {"field": "t"}}}
      ]
    },
    {
      "width": 174, "height": 177,
      "resolve": {"axis": {"x": "independent", "y": "independent"}},
      "layer": [
        {"data": {"name": "d"}, "mark": {"type": "circle", "size": 160, "color": "#17a017", "opacity": 1},
         "encoding": {
           "x": {"field": "x", "type": "quantitative", "scale": {"domain": [-204.51, -201.32], "nice": false, "zero": false}, "axis": {"values": [-204, -203, -202], "labelExpr": "'' + datum.value", "title": "DFT Energy (eV)"}},
           "y": {"field": "m1", "type": "quantitative", "scale": {"domain": [-204.48, -201.28], "nice": false, "zero": false}, "axis": {"values": [-204, -203, -202], "labelExpr": "'' + datum.value", "title": "Predicted Energy (eV)"}}}},
        {"data": {"name": "d"}, "mark": {"type": "circle", "size": 105, "color": "#ff1a1a", "opacity": 1},
         "encoding": {"x": {"field": "x", "type": "quantitative", "axis": null}, "y": {"field": "m2", "type": "quantitative", "axis": null}}},
        {"data": {"name": "d"}, "mark": {"type": "circle", "size": 60, "color": "#ffa500", "opacity": 1},
         "encoding": {"x": {"field": "x", "type": "quantitative", "axis": null}, "y": {"field": "m3", "type": "quantitative", "axis": null}}},
        {"data": {"name": "d"}, "mark": {"type": "circle", "size": 32, "color": "#7a30c8", "opacity": 1},
         "encoding": {"x": {"field": "x", "type": "quantitative", "axis": null}, "y": {"field": "m4", "type": "quantitative", "axis": null}}},
        {"data": {"values": [{"x": -204.51, "y": -204.48}, {"x": -201.32, "y": -201.28}]},
         "mark": {"type": "line", "color": "black", "strokeWidth": 1.8, "clip": true},
         "encoding": {
           "x": {"field": "x", "type": "quantitative", "axis": {"orient": "top", "values": [-204, -203, -202], "labels": false, "title": null}},
           "y": {"field": "y", "type": "quantitative", "axis": {"orient": "right", "values": [-204, -203, -202], "labels": false, "title": null}}}},
        {"data": {"values": [{"x": -202.64, "y": -203.81, "t": "d) Au/WSe₂/Si"}]},
         "mark": {"type": "text", "font": "Liberation Serif", "fontSize": 11, "fontWeight": "bold", "color": "black"},
         "encoding": {"x": {"field": "x", "type": "quantitative", "axis": null}, "y": {"field": "y", "type": "quantitative", "axis": null}, "text": {"field": "t"}}}
      ]
    },
    {
      "width": 174, "height": 177,
      "resolve": {"axis": {"x": "independent", "y": "independent"}},
      "layer": [
        {"data": {"name": "e"}, "mark": {"type": "circle", "size": 160, "color": "#17a017", "opacity": 1},
         "encoding": {
           "x": {"field": "x", "type": "quantitative", "scale": {"domain": [-2.36, 2.31], "nice": false, "zero": false}, "axis": {"values": [-2, -1, 0, 1, 2], "labelExpr": "'' + datum.value", "title": "DFT Force (eV/Å)"}},
           "y": {"field": "m1", "type": "quantitative", "scale": {"domain": [-2.28, 2.35], "nice": false, "zero": false}, "axis": {"values": [-2, -1, 0, 1, 2], "labelExpr": "'' + datum.value", "title": "Predicted Force (ev/Å)"}}}},
        {"data": {"name": "e"}, "mark": {"type": "circle", "size": 105, "color": "#ff1a1a", "opacity": 1},
         "encoding": {"x": {"field": "x", "type": "quantitative", "axis": null}, "y": {"field": "m2", "type": "quantitative", "axis": null}}},
        {"data": {"name": "e"}, "mark": {"type": "circle", "size": 60, "color": "#ffa500", "opacity": 1},
         "encoding": {"x": {"field": "x", "type": "quantitative", "axis": null}, "y": {"field": "m3", "type": "quantitative", "axis": null}}},
        {"data": {"name": "e"}, "mark": {"type": "circle", "size": 32, "color": "#7a30c8", "opacity": 1},
         "encoding": {"x": {"field": "x", "type": "quantitative", "axis": null}, "y": {"field": "m4", "type": "quantitative", "axis": null}}},
        {"data": {"values": [{"x": -2.36, "y": -2.28}, {"x": 2.31, "y": 2.35}]},
         "mark": {"type": "line", "color": "black", "strokeWidth": 1.8, "clip": true},
         "encoding": {
           "x": {"field": "x", "type": "quantitative", "axis": {"orient": "top", "values": [-2, -1, 0, 1, 2], "labels": false, "title": null}},
           "y": {"field": "y", "type": "quantitative", "axis": {"orient": "right", "values": [-2, -1, 0, 1, 2], "labels": false, "title": null}}}},
        {"data": {"values": [{"x": 0.37, "y": -1.38, "t": "e) Au/MoS₂/Si"}]},
         "mark": {"type": "text", "font": "Liberation Serif", "fontSize": 11, "fontWeight": "bold", "color": "black"},
         "encoding": {"x": {"field": "x", "type": "quantitative", "axis": null}, "y": {"field": "y", "type": "quantitative", "axis": null}, "text": {"field": "t"}}}
      ]
    },
    {
      "width": 174, "height": 177,
      "resolve": {"axis": {"x": "independent", "y": "independent"}},
      "layer": [
        {"data": {"name": "f"}, "mark": {"type": "circle", "size": 160, "color": "#17a017", "opacity": 1},
         "encoding": {
           "x": {"field": "x", "type": "quantitative", "scale": {"domain": [-2.33, 2.32], "nice": false, "zero": false}, "axis": {"values": [-2, -1, 0, 1, 2], "labelExpr": "'' + datum.value", "title": "DFT Force (eV/Å)"}},
           "y": {"field": "m1", "type": "quantitative", "scale": {"domain": [-2.28, 2.31], "nice": false, "zero": false}, "axis": {"values": [-2, -1, 0, 1, 2], "labelExpr": "'' + datum.value", "title": "Predicted Force (eV/Å)"}}}},
        {"data": {"name": "f"}, "mark": {"type": "circle", "size": 105, "color": "#ff1a1a", "opacity": 1},
         "encoding": {"x": {"field": "x", "type": "quantitative", "axis": null}, "y": {"field": "m2", "type": "quantitative", "axis": null}}},
        {"data": {"name": "f"}, "mark": {"type": "circle", "size": 60, "color": "#ffa500", "opacity": 1},
         "encoding": {"x": {"field": "x", "type": "quantitative", "axis": null}, "y": {"field": "m3", "type": "quantitative", "axis": null}}},
        {"data": {"name": "f"}, "mark": {"type": "circle", "size": 32, "color": "#7a30c8", "opacity": 1},
         "encoding": {"x": {"field": "x", "type": "quantitative", "axis": null}, "y": {"field": "m4", "type": "quantitative", "axis": null}}},
        {"data": {"values": [{"x": -2.33, "y": -2.28}, {"x": 2.32, "y": 2.31}]},
         "mark": {"type": "line", "color": "black", "strokeWidth": 1.8, "clip": true},
         "encoding": {
           "x": {"field": "x", "type": "quantitative", "axis": {"orient": "top", "values": [-2, -1, 0, 1, 2], "labels": false, "title": null}},
           "y": {"field": "y", "type": "quantitative", "axis": {"orient": "right", "values": [-2, -1, 0, 1, 2], "labels": false, "title": null}}}},
        {"data": {"values": [{"x": 0.28, "y": -1.34, "t": "f) Au/MoSe₂/Si"}]},
         "mark": {"type": "text", "font": "Liberation Serif", "fontSize": 11, "fontWeight": "bold", "color": "black"},
         "encoding": {"x": {"field": "x", "type": "quantitative", "axis": null}, "y": {"field": "y", "type": "quantitative", "axis": null}, "text": {"field": "t"}}}
      ]
    },
    {
      "width": 174, "height": 177,
      "resolve": {"axis": {"x": "independent", "y": "independent"}},
      "layer": [
        {"data": {"name": "g"}, "mark": {"type": "circle", "size": 160, "color": "#17a017", "opacity": 1},
         "encoding": {
           "x": {"field": "x", "type": "quantitative", "scale": {"domain": [-2.36, 2.29], "nice": false, "zero": false}, "axis": {"values": [-2, -1, 0, 1, 2], "labelExpr": "'' + datum.value", "title": "DFT Force (eV/Å)"}},
           "y": {"field": "m1", "type": "quantitative", "scale": {"domain": [-2.28, 2.35], "nice": false, "zero": false}, "axis": {"values": [-2, -1, 0, 1, 2], "labelExpr": "'' + datum.value", "title": "Predicted Force (eV/Å)"}}}},
        {"data": {"name": "g"}, "mark": {"type": "circle", "size": 105, "color": "#ff1a1a", "opacity": 1},
         "encoding": {"x": {"field": "x", "type": "quantitative", "axis": null}, "y": {"field": "m2", "type": "quantitative", "axis": null}}},
        {"data": {"name": "g"}, "mark": {"type": "circle", "size": 60, "color": "#ffa500", "opacity": 1},
         "encoding": {"x": {"field": "x", "type": "quantitative", "axis": null}, "y": {"field": "m3", "type": "quantitative", "axis": null}}},
        {"data": {"name": "g"}, "mark": {"type": "circle", "size": 32, "color": "#7a30c8", "opacity": 1},
         "encoding": {"x": {"field": "x", "type": "quantitative", "axis": null}, "y": {"field": "m4", "type": "quantitative", "axis": null}}},
        {"data": {"values": [{"x": -2.36, "y": -2.28}, {"x": 2.29, "y": 2.35}]},
         "mark": {"type": "line", "color": "black", "strokeWidth": 1.8, "clip": true},
         "encoding": {
           "x": {"field": "x", "type": "quantitative", "axis": {"orient": "top", "values": [-2, -1, 0, 1, 2], "labels": false, "title": null}},
           "y": {"field": "y", "type": "quantitative", "axis": {"orient": "right", "values": [-2, -1, 0, 1, 2], "labels": false, "title": null}}}},
        {"data": {"values": [{"x": 0.24, "y": -1.38, "t": "g) Au/WS₂/Si"}]},
         "mark": {"type": "text", "font": "Liberation Serif", "fontSize": 11, "fontWeight": "bold", "color": "black"},
         "encoding": {"x": {"field": "x", "type": "quantitative", "axis": null}, "y": {"field": "y", "type": "quantitative", "axis": null}, "text": {"field": "t"}}}
      ]
    },
    {
      "width": 174, "height": 177,
      "resolve": {"axis": {"x": "independent", "y": "independent"}},
      "layer": [
        {"data": {"name": "h"}, "mark": {"type": "circle", "size": 160, "color": "#17a017", "opacity": 1},
         "encoding": {
           "x": {"field": "x", "type": "quantitative", "scale": {"domain": [-2.32, 2.3], "nice": false, "zero": false}, "axis": {"values": [-2, -1, 0, 1, 2], "labelExpr": "'' + datum.value", "title": "DFT Force (eV/Å)"}},
           "y": {"field": "m1", "type": "quantitative", "scale": {"domain": [-2.28, 2.31], "nice": false, "zero": false}, "axis": {"values": [-2, -1, 0, 1, 2], "labelExpr": "'' + datum.value", "title": "Predicted Force (eV/Å)"}}}},
        {"data": {"name": "h"}, "mark": {"type": "circle", "size": 105, "color": "#ff1a1a", "opacity": 1},
         "encoding": {"x": {"field": "x", "type": "quantitative", "axis": null}, "y": {"field": "m2", "type": "quantitative", "axis": null}}},
        {"data": {"name": "h"}, "mark": {"type": "circle", "size": 60, "color": "#ffa500", "opacity": 1},
         "encoding": {"x": {"field": "x", "type": "quantitative", "axis": null}, "y": {"field": "m3", "type": "quantitative", "axis": null}}},
        {"data": {"name": "h"}, "mark": {"type": "circle", "size": 32, "color": "#7a30c8", "opacity": 1},
         "encoding": {"x": {"field": "x", "type": "quantitative", "axis": null}, "y": {"field": "m4", "type": "quantitative", "axis": null}}},
        {"data": {"values": [{"x": -2.32, "y": -2.28}, {"x": 2.3, "y": 2.31}]},
         "mark": {"type": "line", "color": "black", "strokeWidth": 1.8, "clip": true},
         "encoding": {
           "x": {"field": "x", "type": "quantitative", "axis": {"orient": "top", "values": [-2, -1, 0, 1, 2], "labels": false, "title": null}},
           "y": {"field": "y", "type": "quantitative", "axis": {"orient": "right", "values": [-2, -1, 0, 1, 2], "labels": false, "title": null}}}},
        {"data": {"values": [{"x": 0.41, "y": -1.36, "t": "h) Au/WSe₂/Si"}]},
         "mark": {"type": "text", "font": "Liberation Serif", "fontSize": 11, "fontWeight": "bold", "color": "black"},
         "encoding": {"x": {"field": "x", "type": "quantitative", "axis": null}, "y": {"field": "y", "type": "quantitative", "axis": null}, "text": {"field": "t"}}}
      ]
    }
  ]
}
